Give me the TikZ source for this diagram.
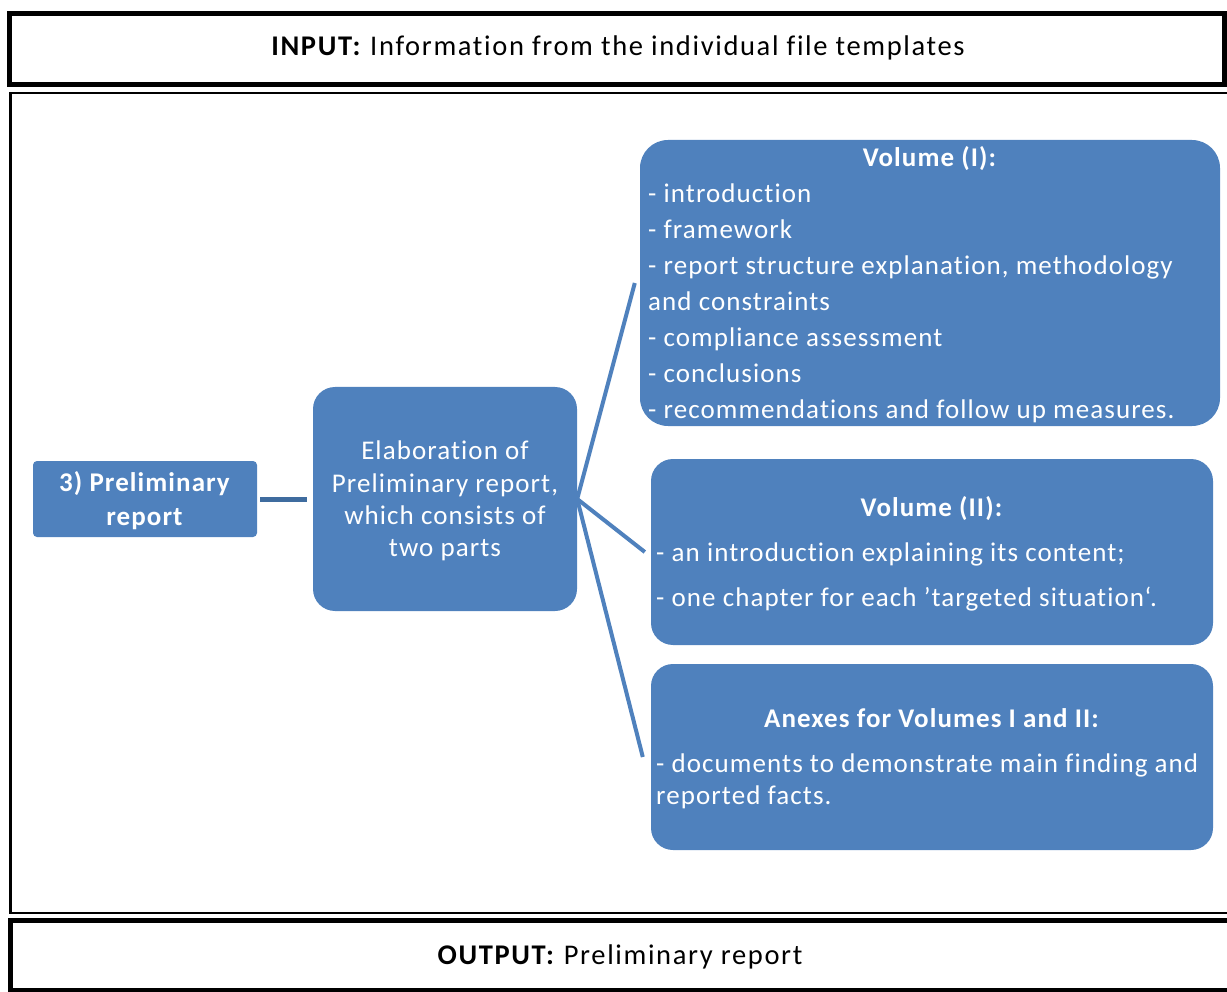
\documentclass[tikz,border=0pt]{standalone}
\usepackage{fontspec}
\setmainfont{Carlito}[LetterSpace=4.0, Ligatures=NoCommon]
\newfontfamily\framefont{Carlito}[LetterSpace=5.8, Ligatures=NoCommon]
\definecolor{boxblue}{HTML}{4F81BD}
\definecolor{linkdark}{HTML}{3F6C9F}
\tikzset{
  bluebox/.style={fill=boxblue, draw=none, inner sep=0pt},
  txt/.style={text=white, inner sep=0pt, font=\fontsize{27}{33}\selectfont},
  ltxt/.style={txt, anchor=base west},
  ctxt/.style={txt, anchor=base},
  btxt/.style={text=black, inner sep=0pt, anchor=base, font=\framefont\fontsize{28.5}{33}\selectfont},
  fan/.style={draw=boxblue, line width=4pt},
}
\begin{document}
\begin{tikzpicture}[x=1pt,y=-1pt]
\useasboundingbox (0,0) rectangle (1227,992);
% frames
\draw[line width=5pt] (9.5,13.5) rectangle (1224.5,84.5);
\draw[line width=2.5pt] (1235,93) -- (10.5,93) -- (10.5,913) -- (1235,913);
\draw[line width=5pt] (1235,920.5) -- (10.5,920.5) -- (10.5,990) -- (1235,990);
\node[btxt] (input) at (618,56) {\textbf{INPUT:} Information from the individual file templates};
\node[btxt] (output) at (620,964) {\textbf{OUTPUT:} Preliminary report};
% boxes
\node[bluebox, minimum width=224pt, minimum height=76pt, rounded corners=4pt] (prelim) at (145,499) {};
\node[bluebox, minimum width=264pt, minimum height=224pt, rounded corners=22pt] (elab) at (445,499) {};
\node[bluebox, minimum width=580pt, minimum height=286pt, rounded corners=28pt] (v1) at (930,283) {};
\node[bluebox, minimum width=562pt, minimum height=186pt, rounded corners=22pt] (v2) at (932,552) {};
\node[bluebox, minimum width=562pt, minimum height=186pt, rounded corners=22pt] (v3) at (932,757) {};
% connectors
\draw[linkdark, line width=5pt, shorten <=3pt, shorten >=6pt] (prelim.east) -- (elab.west);
\draw[fan] (elab.east) -- ([xshift=-5pt]v1.west);
\draw[fan] (elab.east) -- ([xshift=-6pt]v2.west);
\draw[fan] (elab.east) -- ([xshift=-8pt]v3.west);
% prelim text
\node[ctxt] (p1) at (145,491) {\textbf{3) Preliminary}};
\node[ctxt] (p2) at (145,525) {\textbf{report}};
% elab text
\node[ctxt] (e1) at (445,459) {Elaboration of};
\node[ctxt] (e2) at (445,492) {Preliminary report,};
\node[ctxt] (e3) at (445,524) {which consists of};
\node[ctxt] (e4) at (445,556) {two parts};
% volume I
\node[ctxt] (a0) at (930,167) {\textbf{Volume (I):}};
\node[ltxt] (a1) at (648,203) {- introduction};
\node[ltxt] (a2) at (648,239) {- framework};
\node[ltxt] (a3) at (648,275) {- report structure explanation, methodology};
\node[ltxt] (a4) at (648,311) {and constraints};
\node[ltxt] (a5) at (648,347) {- compliance assessment};
\node[ltxt] (a6) at (648,383) {- conclusions};
\node[ltxt] (a7) at (648,418) {- recommendations and follow up measures.};
% volume II
\node[ctxt] (b0) at (932,516) {\textbf{Volume (II):}};
\node[ltxt] (b1) at (656,561) {- an introduction explaining its content;};
\node[ltxt] (b2) at (656,606) {- one chapter for each ’targeted situation‘.};
% annexes
\node[ctxt] (c0) at (932,727) {\textbf{Anexes for Volumes I and II:}};
\node[ltxt] (c1) at (656,772) {- documents to demonstrate main finding and};
\node[ltxt] (c2) at (656,804) {reported facts.};
\end{tikzpicture}
\end{document}
